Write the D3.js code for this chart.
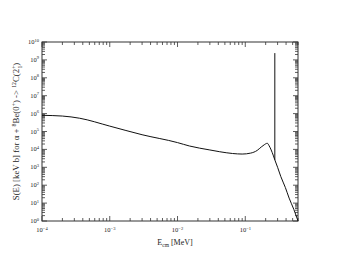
<!DOCTYPE html>
<html><head><meta charset="utf-8">
<script src="https://cdn.jsdelivr.net/npm/d3@7"></script>
<style>body{margin:0;background:#fff}svg{display:block}text{font-family:"Liberation Serif","DejaVu Serif",serif;fill:#222}</style>
</head><body>
<script>
// Data
const energy = [1e-4, 2e-4, 3.6e-4, 1e-3, 3e-3, 1e-2, 0.015, 0.03, 0.042, 0.065, 0.09, 0.12, 0.15, 0.172, 0.19, 0.211, 0.225, 0.241, 0.258, 0.273, 0.3, 0.335, 0.39, 0.444, 0.52, 0.6];
const sfactor = [8.0e5, 7.3e5, 5.5e5, 2.0e5, 6.6e4, 2.4e4, 1.55e4, 9.3e3, 7.4e3, 5.9e3, 5.5e3, 6.2e3, 8.8e3, 1.36e4, 1.8e4, 2.2e4, 1.6e4, 9.3e3, 4.8e3, 2.6e3, 1.0e3, 300, 75, 19, 4.5, 1];
const resonanceE = [0.273, 0.273];
const resonanceS = [2.6e3, 2.4e9];
const xTickExp = [-4, -3, -2, -1];
const yTickExp = [0,1,2,3,4,5,6,7,8,9,10];
const xDomain = [1e-4, 0.6];
const yDomain = [1, 1e10];

const W = 341, H = 264;
const m = {l:42, r:43, t:42, b:43};
const svg = d3.select("body").append("svg").attr("width", W).attr("height", H);
const x = d3.scaleLog().domain(xDomain).range([m.l, W - m.r]);
const y = d3.scaleLog().domain(yDomain).range([H - m.b, m.t]);
const x0 = m.l, x1 = W - m.r, y0 = H - m.b, y1 = m.t;
const axisColor = "#333";

function minors(dom){
  const out=[];
  const a=Math.floor(Math.log10(dom[0])), b=Math.ceil(Math.log10(dom[1]));
  for(let e=a;e<=b;e++) for(let k=1;k<=9;k++){const v=k*Math.pow(10,e); if(v>=dom[0]*0.9999 && v<=dom[1]*1.0001) out.push({v, major:k===1});}
  return out;
}
const g = svg.append("g");
minors(xDomain).forEach(t=>{
  const L = t.major?5:3, xx = x(t.v);
  g.append("line").attr("x1",xx).attr("x2",xx).attr("y1",y0).attr("y2",y0-L).attr("stroke",axisColor).attr("stroke-width",0.8);
  g.append("line").attr("x1",xx).attr("x2",xx).attr("y1",y1).attr("y2",y1+L).attr("stroke",axisColor).attr("stroke-width",0.8);
});
minors(yDomain).forEach(t=>{
  const L = t.major?5:3, yy = y(t.v);
  g.append("line").attr("y1",yy).attr("y2",yy).attr("x1",x0).attr("x2",x0+L).attr("stroke",axisColor).attr("stroke-width",0.8);
  g.append("line").attr("y1",yy).attr("y2",yy).attr("x1",x1).attr("x2",x1-L).attr("stroke",axisColor).attr("stroke-width",0.8);
});
svg.append("rect").attr("x",x0).attr("y",y1).attr("width",x1-x0).attr("height",y0-y1)
  .attr("fill","none").attr("stroke",axisColor).attr("stroke-width",1);

xTickExp.forEach(e=>{
  const t = svg.append("text").attr("x",x(Math.pow(10,e))).attr("y",y0+11).attr("text-anchor","middle").attr("font-size",6.5);
  t.append("tspan").text("10");
  t.append("tspan").attr("dy",-2.5).attr("font-size",4.5).text(String(e).replace("-","\u2212"));
});
yTickExp.forEach(e=>{
  const t = svg.append("text").attr("x",x0-3).attr("y",y(Math.pow(10,e))+2).attr("text-anchor","end").attr("font-size",6.5);
  t.append("tspan").text("10");
  t.append("tspan").attr("dy",-2.5).attr("font-size",4.5).text(String(e));
});

const xt = svg.append("text").attr("x",(x0+x1)/2+5).attr("y",y0+24).attr("text-anchor","middle").attr("font-size",8);
xt.append("tspan").text("E");
xt.append("tspan").attr("dy",2).attr("font-size",5.5).text("cm");
xt.append("tspan").attr("dy",-2).text(" [MeV]");

const yt = svg.append("text").attr("transform",`translate(19,${(y0+y1)/2}) rotate(-90)`).attr("text-anchor","middle").attr("font-size",8.8);
yt.append("tspan").text("S(E) [keV b] for \u03b1 + ");
yt.append("tspan").attr("dy",-3.5).attr("font-size",5.8).text("8");
yt.append("tspan").attr("dy",3.5).text("Be(0");
yt.append("tspan").attr("dy",-3.5).attr("font-size",5.8).text("+");
yt.append("tspan").attr("dy",3.5).text(") -> ");
yt.append("tspan").attr("dy",-3.5).attr("font-size",5.8).text("12");
yt.append("tspan").attr("dy",3.5).text("C(2");
yt.append("tspan").attr("dy",-3.5).attr("font-size",5.8).text("+");
yt.append("tspan").attr("dx",-3).attr("dy",6.5).attr("font-size",5.8).text("1");
yt.append("tspan").attr("dy",-3).text(")");

const line = d3.line().x(d=>x(d[0])).y(d=>y(d[1])).curve(d3.curveMonotoneX);
svg.append("path").datum(energy.map((e,i)=>[e,sfactor[i]])).attr("d",line)
  .attr("fill","none").attr("stroke","#111").attr("stroke-width",1);
svg.append("path").datum(resonanceE.map((e,i)=>[e,resonanceS[i]])).attr("d",d3.line().x(d=>x(d[0])).y(d=>y(d[1])))
  .attr("fill","none").attr("stroke","#111").attr("stroke-width",1);
</script>
</body></html>
